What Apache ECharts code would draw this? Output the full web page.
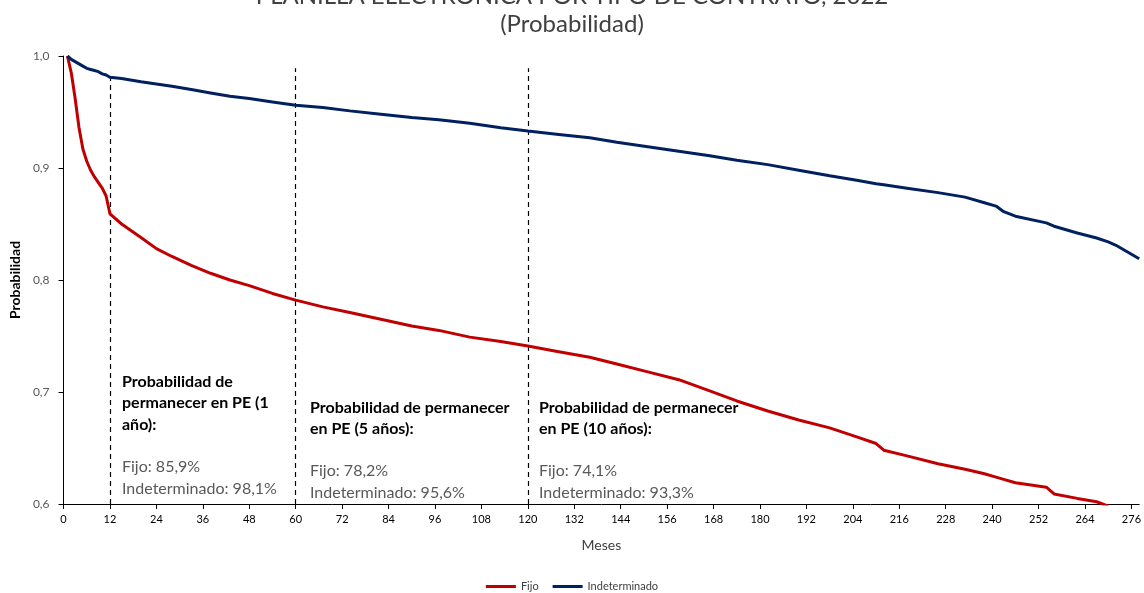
<!DOCTYPE html>
<html>
<head>
<meta charset="utf-8">
<script src="https://cdn.jsdelivr.net/npm/echarts@6/dist/echarts.min.js"></script>
<style>
html,body{margin:0;padding:0;background:#fff;}
#chart{width:1144px;height:593px;}
</style>
</head>
<body>
<div id="chart"></div>
<script>
// ---- Data ----
const titleText = 'PLANILLA ELECTRÓNICA POR TIPO DE CONTRATO, 2022';
const subtitleText = '(Probabilidad)';
const seriesNames = ['Fijo', 'Indeterminado'];
const months = [1,2,3,4,5,6,7,8,9,10,11,12,15,20,24,28,33,38,43,48,54,60,67,74,82,90,97,105,113,120,128,136,143,151,159,167,174,182,190,198,205,210,212,218,226,233,238,241,243,246,254,256,262,267,270,272,275,278];
const fijo = [1.000,0.985,0.962,0.936,0.917,0.906,0.898,0.892,0.887,0.882,0.875,0.859,0.850,0.838,0.828,0.821,0.813,0.806,0.800,0.795,0.788,0.782,0.776,0.771,0.765,0.759,0.755,0.749,0.745,0.741,0.736,0.731,0.725,0.718,0.711,0.701,0.692,0.683,0.675,0.668,0.660,0.654,0.648,0.643,0.636,0.631,0.627,0.624,0.622,0.619,0.615,0.609,0.605,0.602,0.598,null,null,null];
const indeterminado = [1.000,0.997,0.995,0.993,0.991,0.989,0.988,0.987,0.986,0.984,0.983,0.981,0.980,0.977,0.975,0.973,0.970,0.967,0.964,0.962,0.959,0.956,0.954,0.951,0.948,0.945,0.943,0.940,0.936,0.933,0.930,0.927,0.923,0.919,0.915,0.911,0.907,0.903,0.898,0.893,0.889,0.886,0.885,0.882,0.878,0.874,0.869,0.866,0.861,0.857,0.851,0.848,0.842,0.8375,0.834,0.831,0.825,0.819];
const markerMonths = [12, 60, 120];
const markerTops = [0.981, 0.989, 0.989];
const noteHeads = ['Probabilidad de\npermanecer en PE (1\naño):', 'Probabilidad de permanecer\nen PE (5 años):', 'Probabilidad de permanecer\nen PE (10 años):'];
const noteValues = ['Fijo: 85,9%\nIndeterminado: 98,1%', 'Fijo: 78,2%\nIndeterminado: 95,6%', 'Fijo: 74,1%\nIndeterminado: 93,3%'];
const xTickInterval = 12;
const yTicks = {min: 0.6, max: 1.0, interval: 0.1};

// ---- Chart ----
const FONT = 'Lato, "Open Sans", sans-serif';
const chart = echarts.init(document.getElementById('chart'), null, {renderer: 'canvas'});
const pair = (vals) => months.map((m, i) => [m, vals[i]]);

const noteLayout = [
  {x: 122, headTop: 371, valTop: 456},
  {x: 310, headTop: 397, valTop: 460},
  {x: 539, headTop: 397, valTop: 460}
];
const graphics = [
  {type: 'text', left: 'center', top: -16, style: {text: titleText, font: '24px ' + FONT, fill: '#404040'}},
  {type: 'text', left: 'center', top: 12, style: {text: subtitleText, font: '24px ' + FONT, fill: '#404040'}}
];
noteLayout.forEach((p, i) => {
  graphics.push({type: 'text', x: p.x, y: p.headTop, z: 10,
    style: {text: noteHeads[i], font: 'bold 16px ' + FONT, fill: '#000', lineHeight: 21.5}});
  graphics.push({type: 'text', x: p.x, y: p.valTop, z: 10,
    style: {text: noteValues[i], font: '16px ' + FONT, fill: '#595959', lineHeight: 22}});
});

const option = {
  animation: false,
  textStyle: {fontFamily: FONT},
  graphic: graphics,
  grid: {left: 62, right: 0, top: 56, bottom: 89, containLabel: false},
  legend: {
    bottom: -4, left: 'center',
    data: seriesNames,
    icon: 'rect', itemWidth: 30, itemHeight: 3, itemGap: 14,
    textStyle: {fontSize: 11, color: '#404040', fontFamily: FONT}
  },
  xAxis: {
    type: 'value', min: 0, max: 278, interval: xTickInterval,
    name: 'Meses', nameLocation: 'middle', nameGap: 34,
    nameTextStyle: {fontSize: 14, color: '#404040', fontFamily: FONT},
    axisLine: {show: true, lineStyle: {color: '#000', width: 1}},
    axisTick: {show: true, length: 5, lineStyle: {color: '#000'}},
    axisLabel: {fontSize: 11, color: '#000', margin: 10, showMaxLabel: false, fontFamily: FONT},
    splitLine: {show: false}
  },
  yAxis: {
    type: 'value', min: yTicks.min, max: yTicks.max, interval: yTicks.interval,
    name: 'Probabilidad', nameLocation: 'middle', nameGap: 37, nameRotate: 90,
    nameTextStyle: {fontSize: 14, color: '#000', fontWeight: 'bold', fontFamily: FONT},
    axisLine: {show: true, lineStyle: {color: '#000', width: 1}},
    axisTick: {show: true, length: 5, lineStyle: {color: '#000'}},
    axisLabel: {fontSize: 12, color: '#595959', margin: 14, fontFamily: FONT,
      formatter: v => v.toFixed(1).replace('.', ',')},
    splitLine: {show: false}
  },
  series: [
    {
      name: seriesNames[0], type: 'line', data: pair(fijo), showSymbol: false, symbol: 'none',
      lineStyle: {color: '#C00000', width: 3}, itemStyle: {color: '#C00000'}, z: 3
    },
    {
      name: seriesNames[1], type: 'line', data: pair(indeterminado), showSymbol: false, symbol: 'none',
      lineStyle: {color: '#002060', width: 3}, itemStyle: {color: '#002060'}, z: 3,
      markLine: {
        silent: true, symbol: 'none', label: {show: false}, z: 2,
        lineStyle: {color: '#000', type: [5, 4], width: 1.2},
        data: markerMonths.map((m, i) => [{coord: [m, yTicks.min]}, {coord: [m, markerTops[i]]}])
      }
    }
  ]
};
chart.setOption(option);
</script>
</body>
</html>
